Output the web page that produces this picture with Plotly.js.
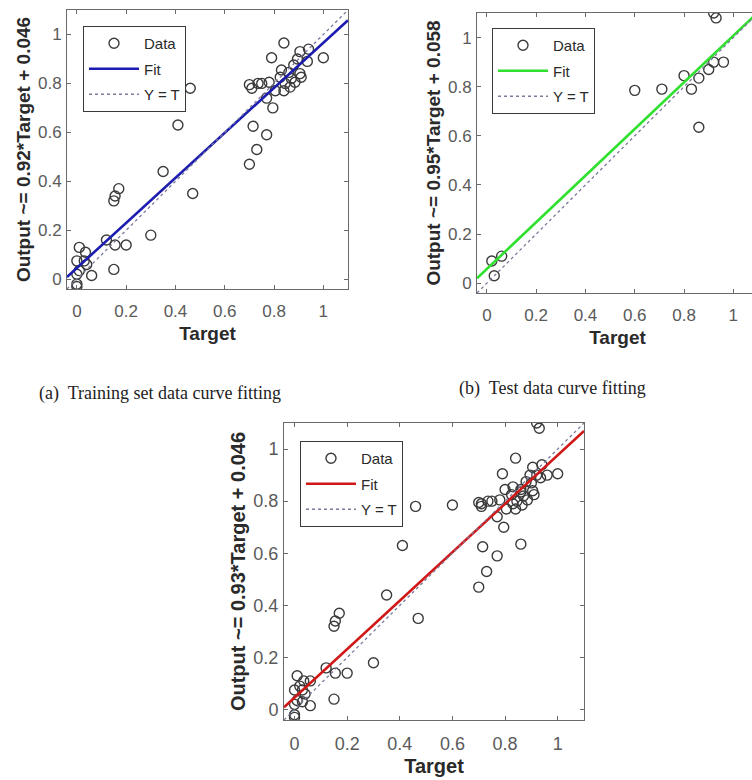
<!DOCTYPE html>
<html>
<head>
<meta charset="utf-8">
<script src="https://cdn.plot.ly/plotly-3.0.1.min.js"></script>
<style>
  html, body { margin: 0; padding: 0; overflow: hidden; background: #fff; }
  #chart { width: 780px; height: 780px; }
</style>
</head>
<body>
<div id="chart"></div>
<script>
// ---- data ----
const trainTarget = [0.00, 0.01, 0.035, 0.03, 0.01, 0.00, 0.06, 0.00, 0.00, 0.04,
  0.12, 0.155, 0.20, 0.15, 0.17, 0.155, 0.15, 0.30, 0.35, 0.41,
  0.46, 0.47, 0.70, 0.73, 0.715, 0.77, 0.795, 0.77, 0.70, 0.71,
  0.735, 0.75, 0.78, 0.805, 0.84, 0.865, 0.845, 0.885, 0.825, 0.87,
  0.91, 0.83, 0.86, 0.905, 0.88, 0.895, 0.935, 0.905, 0.94, 0.79,
  0.84, 1.00];
const trainOutput = [0.075, 0.13, 0.11, 0.075, 0.035, 0.02, 0.015, -0.02, -0.03, 0.06,
  0.16, 0.14, 0.14, 0.04, 0.37, 0.34, 0.32, 0.18, 0.44, 0.63,
  0.78, 0.35, 0.47, 0.53, 0.625, 0.59, 0.70, 0.74, 0.795, 0.78,
  0.80, 0.80, 0.805, 0.77, 0.77, 0.785, 0.80, 0.805, 0.825, 0.82,
  0.825, 0.855, 0.845, 0.84, 0.875, 0.90, 0.89, 0.93, 0.94, 0.905,
  0.965, 0.905];
const testTarget = [0.02, 0.06, 0.03, 0.60, 0.71, 0.80, 0.83, 0.86, 0.86, 0.90, 0.92, 0.96, 0.92, 0.93];
const testOutput = [0.09, 0.11, 0.03, 0.785, 0.79, 0.845, 0.79, 0.835, 0.635, 0.87, 0.90, 0.90, 1.10, 1.08];
const allTarget = trainTarget.concat(testTarget);
const allOutput = trainOutput.concat(testOutput);

const fitSlopes = [0.92, 0.95, 0.93];
const fitIntercepts = [0.046, 0.058, 0.046];
const yTitles = ["Output ~= 0.92*Target + 0.046", "Output ~= 0.95*Target + 0.058", "Output ~= 0.93*Target + 0.046"];
const captions = ["(a)  Training set data curve fitting", "(b)  Test data curve fitting"];
const legendNames = ["Data", "Fit", "Y = T"];
const tickVals = [0, 0.2, 0.4, 0.6, 0.8, 1];
const tickText = ["0", "0.2", "0.4", "0.6", "0.8", "1"];
const axisRange = [-0.04, 1.1];

// ---- layout geometry (pixels) ----
const W = 780, H = 780;
const boxes = [
  {l: 67, r: 348, t: 10, b: 289},
  {l: 477, r: 758, t: 13, b: 293},
  {l: 284, r: 584, t: 423, b: 720}
];
const fitColors = ["#1c1cb0", "#2fe02f", "#d01818"];
const legendPos = [{x: 83, y: 26}, {x: 492, y: 28}, {x: 300, y: 441}];
const tickSize = [17, 17, 18];
const titleSize = [19, 19, 20];

const sets = [[trainTarget, trainOutput], [testTarget, testOutput], [allTarget, allOutput]];
const traces = [];
const layout = {
  width: W, height: H,
  margin: {l: 0, r: 0, t: 0, b: 0},
  paper_bgcolor: "#fff", plot_bgcolor: "#fff",
  font: {family: "Liberation Sans, Arial, sans-serif"},
  showlegend: true,
  annotations: [],
  hovermode: false
};

for (let i = 0; i < 3; i++) {
  const sfx = i === 0 ? "" : String(i + 1);
  const xa = "x" + sfx, ya = "y" + sfx;
  const leg = "legend" + sfx;
  traces.push({
    type: "scatter", mode: "markers", x: sets[i][0], y: sets[i][1],
    xaxis: xa, yaxis: ya, legend: leg, name: legendNames[0], legendgroup: "d" + i,
    marker: {symbol: "circle-open", size: 10, color: "#3a3a3a", line: {width: 1.4, color: "#3a3a3a"}}
  });
  const fx = [axisRange[0], axisRange[1]];
  traces.push({
    type: "scatter", mode: "lines", x: fx,
    y: fx.map(v => fitSlopes[i] * v + fitIntercepts[i]),
    xaxis: xa, yaxis: ya, legend: leg, name: legendNames[1], legendgroup: "f" + i,
    line: {color: fitColors[i], width: 2.6}
  });
  traces.push({
    type: "scatter", mode: "lines", x: fx, y: fx,
    xaxis: xa, yaxis: ya, legend: leg, name: legendNames[2], legendgroup: "t" + i,
    line: {color: "#7a7a9a", width: 1.3, dash: "dot"}
  });
  const bx = boxes[i];
  const axCommon = {
    range: axisRange, tickmode: "array", tickvals: tickVals, ticktext: tickText,
    showgrid: false, zeroline: false, showline: true, mirror: "ticks",
    linecolor: "#6a6a6a", linewidth: 1, ticks: "inside", ticklen: 4, tickcolor: "#6a6a6a",
    tickfont: {size: tickSize[i], color: "#5a5a5a", family: "Liberation Sans, Arial, sans-serif"},
    fixedrange: true
  };
  layout["xaxis" + sfx] = Object.assign({}, axCommon, {
    domain: [bx.l / W, bx.r / W], anchor: ya, ticklabelstandoff: 7,
    title: {text: "<b>Target</b>", font: {size: titleSize[i], color: "#2a2a2a"}, standoff: 6}
  });
  layout["yaxis" + sfx] = Object.assign({}, axCommon, {
    domain: [1 - bx.b / H, 1 - bx.t / H], anchor: xa, ticklabelstandoff: 1,
    title: {text: "<b>" + yTitles[i] + "</b>", font: {size: titleSize[i], color: "#2a2a2a"}, standoff: 2}
  });
  layout[leg] = {
    x: legendPos[i].x / W, y: 1 - legendPos[i].y / H, xanchor: "left", yanchor: "top",
    xref: "paper", yref: "paper",
    bgcolor: "#fff", bordercolor: "#3a3a3a", borderwidth: 1,
    font: {size: 15, color: "#2a2a2a", family: "Liberation Sans, Arial, sans-serif"},
    traceorder: "grouped", tracegroupgap: 3, itemwidth: 50, entrywidth: 100
  };
}

const capPos = [{x: 37, y: 393}, {x: 457, y: 388}];
for (let i = 0; i < captions.length; i++) {
  layout.annotations.push({
    text: captions[i], xref: "paper", yref: "paper",
    x: capPos[i].x / W, y: 1 - capPos[i].y / H, xanchor: "left", yanchor: "middle",
    showarrow: false, font: {family: "Liberation Serif, Times New Roman, serif", size: 18, color: "#222"}
  });
}

Plotly.newPlot("chart", traces, layout, {displayModeBar: false, staticPlot: true});
</script>
</body>
</html>
